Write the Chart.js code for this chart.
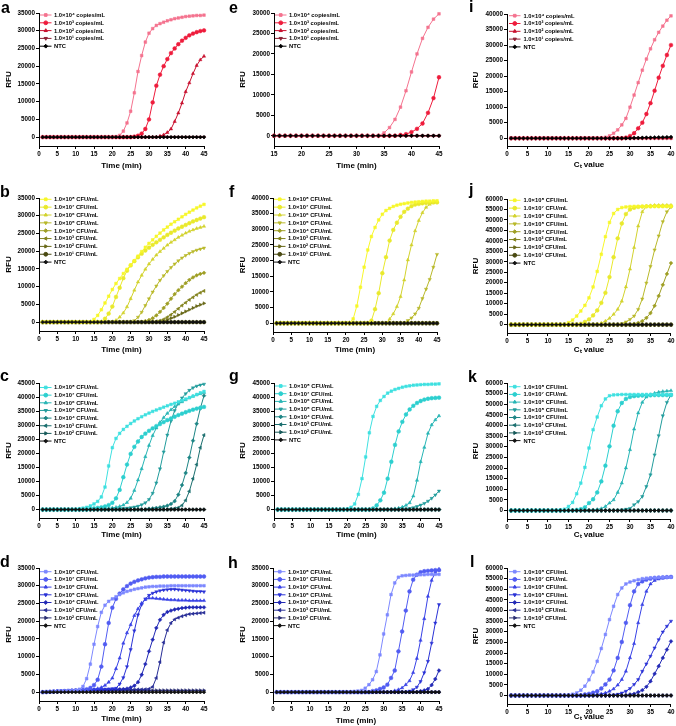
<!DOCTYPE html>
<html>
<head>
<meta charset="utf-8">
<script src="https://cdn.jsdelivr.net/npm/chart.js@4.4.0/dist/chart.umd.min.js"></script>
<style>
  html, body { margin: 0; padding: 0; background: #fff; }
  #fig { position: relative; width: 676px; height: 726px; overflow: hidden; }
  .panel { position: absolute; }
  .tag { position: absolute; font: bold 16px "Liberation Sans", Arial, sans-serif; line-height: 1; color: #000; }
</style>
</head>
<body>
<div id="fig"></div>
<script>
// x positions (minutes / cycles)
const tX = [1,2,3,4,5,6,7,8,9,10,11,12,13,14,15,16,17,18,19,20,21,22,23,24,25,26,27,28,29,30,31,32,33,34,35,36,37,38,39,40,41,42,43,44,45];
const eX = [15,16,17,18,19,20,21,22,23,24,25,26,27,28,29,30,31,32,33,34,35,36,37,38,39,40,41,42,43,44,45];
const cX = [1,2,3,4,5,6,7,8,9,10,11,12,13,14,15,16,17,18,19,20,21,22,23,24,25,26,27,28,29,30,31,32,33,34,35,36,37,38,39,40];

// tick labels
const xT45 = [0,5,10,15,20,25,30,35,40,45];
const xTe = [15,20,25,30,35,40,45];
const xT40 = [0,5,10,15,20,25,30,35,40];
const yT30 = [0,5000,10000,15000,20000,25000,30000];
const yT35 = [0,5000,10000,15000,20000,25000,30000,35000];
const yT40 = [0,5000,10000,15000,20000,25000,30000,35000,40000];
const yT45 = [0,5000,10000,15000,20000,25000,30000,35000,40000,45000];
const yT60 = [0,5000,10000,15000,20000,25000,30000,35000,40000,45000,50000,55000,60000];

// series names
const copyLabels = ['1.0×10⁴ copies/mL','1.0×10³ copies/mL','1.0×10² copies/mL','1.0×10¹ copies/mL','NTC'];
const cfu9Labels = ['1.0×10⁸ CFU/mL','1.0×10⁷ CFU/mL','1.0×10⁶ CFU/mL','1.0×10⁵ CFU/mL','1.0×10⁴ CFU/mL','1.0×10³ CFU/mL','1.0×10² CFU/mL','1.0×10¹ CFU/mL','NTC'];
const cfu8Labels = ['1.0×10⁸ CFU/mL','1.0×10⁷ CFU/mL','1.0×10⁶ CFU/mL','1.0×10⁵ CFU/mL','1.0×10⁴ CFU/mL','1.0×10³ CFU/mL','1.0×10² CFU/mL','NTC'];
const timeTitle = 'Time (min)';
const ctTitle = 'Cₜ value';

// panel a
const a1 = [0,0,0,0,0,0,0,0,0,0, 0,0,0,0,0,0,0,0,0,0, 100,500,1700,4000,7300,12500,18500,23000,26800,29300,30600,31500,32000,32400,32800,33100,33400,33600,33800,34000,34100,34200,34300,34300,34400];
const a2 = [0,0,0,0,0,0,0,0,0,0, 0,0,0,0,0,0,0,0,0,0, 0,0,0,0,0, 150,400,1000,2300,5000,9800,14500,17600,20000,22000,23700,25000,26200,27200,28000,28700,29200,29600,29900,30100];
const a3 = [0,0,0,0,0,0,0,0,0,0, 0,0,0,0,0,0,0,0,0,0, 0,0,0,0,0,0,0,0,0,0, 0,0, 300,650,1300,2300,4400,6800,9600,12800,15300,17900,20200,21800,22800];
const a4 = [0,0,0,0,0,0,0,0,0,0, 0,0,0,0,0,0,0,0,0,0, 0,0,0,0,0,0,0,0,0,0, 0,0,0,0,0,0,0,0,0,0, 0,0,0,0,0];
const aN = [0,0,0,0,0,0,0,0,0,0, 0,0,0,0,0,0,0,0,0,0, 0,0,0,0,0,0,0,0,0,0, 0,0,0,0,0,0,0,0,0,0, 0,0,0,0,0];

// panel e (x from 15)
const e1 = [0,0,0,0,0,0,0,0,0,0, 0,0,0,0,0,0,0,0,0,0, 700,2000,4000,7000,11000,15600,20000,23800,26500,28500,29800];
const e2 = [0,0,0,0,0,0,0,0,0,0, 0,0,0,0,0,0,0,0,0,0, 0,0,0, 200,400,900,1700,3000,5600,9200,14300];
const e3 = [0,0,0,0,0,0,0,0,0,0, 0,0,0,0,0,0,0,0,0,0, 0,0,0,0,0,0,0,0,0,0, 0];
const e4 = [0,0,0,0,0,0,0,0,0,0, 0,0,0,0,0,0,0,0,0,0, 0,0,0,0,0,0,0,0,0,0, 0];
const eN = [0,0,0,0,0,0,0,0,0,0, 0,0,0,0,0,0,0,0,0,0, 0,0,0,0,0,0,0,0,0,0, 0];

// panel i
const i1 = [0,0,0,0,0,0,0,0,0,0, 0,0,0,0,0,0,0,0,0,0, 0,0,0, 300,750,1600,2700,4300,6400,10000,13900,17900,21900,25500,28800,31700,34100,36100,38000,39400];
const i2 = [0,0,0,0,0,0,0,0,0,0, 0,0,0,0,0,0,0,0,0,0, 0,0,0,0,0,0,0,0, 200,700,1600,3200,5000,7800,11300,15300,19500,23300,26800,30000];
const i3 = [0,0,0,0,0,0,0,0,0,0, 0,0,0,0,0,0,0,0,0,0, 0,0,0,0,0,0,0,0,0,0, 0,0,0,0,0,0,0,0,0,0];
const i4 = [0,0,0,0,0,0,0,0,0,0, 0,0,0,0,0,0,0,0,0,0, 0,0,0,0,0,0,0,0,0,0, 0,0,0,0,0,0,0,0,0,0];
const iN = [0,0,0,0,0,0,0,0,0,0, 0,0,0,0,0,0,0,0,0,0, 0,0,0,0,0,0,0,0,0,0, 100,100,150,200,200,250,300,300,350,400];

// panel b
const b1 = [0,0,0,0,0,0,0,0,0,0, 0,0,0,0, 760,1900,3500,5400,7300,9200,10900,12300,13700,14900,16100,17300,18600,19900,21100,22200,23200,24200,25100,26000,26800,27600,28300,29000,29700,30400,31000,31600,32200,32700,33200];
const b2 = [0,0,0,0,0,0,0,0,0,0, 0,0,0,0,0,0,0, 950,2400,4400,7100,9700,12400,14500,16000,17200,18300,19300,20200,21000,21800,22500,23200,23900,24600,25200,25800,26400,26900,27400,27900,28400,28800,29200,29600];
const b3 = [0,0,0,0,0,0,0,0,0,0, 0,0,0,0,0,0,0,0,0,0, 500,1400,2600,4300,6600,9000,11300,13200,14900,16400,17700,18900,19900,20800,21700,22500,23200,23900,24500,25100,25600,26000,26400,26700,27000];
const b4 = [0,0,0,0,0,0,0,0,0,0, 0,0,0,0,0,0,0,0,0,0, 0,0,0,0,0, 400,1400,2800,4700,6600,8500,10200,11800,13100,14300,15400,16400,17300,18100,18800,19400,19900,20300,20600,20900];
const b5 = [0,0,0,0,0,0,0,0,0,0, 0,0,0,0,0,0,0,0,0,0, 0,0,0,0,0,0,0,0, 300,600,1100,1900,2900,4000,5200,6600,7900,9000,10000,11000,11900,12600,13200,13600,13900];
const b6 = [0,0,0,0,0,0,0,0,0,0, 0,0,0,0,0,0,0,0,0,0, 0,0,0,0,0,0,0,0,0,0, 0, 200,400,800,1400,2100,2900,3800,4700,5500,6300,7000,7700,8300,8800];
const b7 = [0,0,0,0,0,0,0,0,0,0, 0,0,0,0,0,0,0,0,0,0, 0,0,0,0,0,0,0,0,0,0, 0,0, 200,400,700,1100,1500,2000,2500,3000,3500,4000,4500,4900,5300];
const b8 = [0,0,0,0,0,0,0,0,0,0, 0,0,0,0,0,0,0,0,0,0, 0,0,0,0,0,0,0,0,0,0, 0,0,0,0,0,0,0,0,0,0, 0,0,0,0,0];
const bN = [0,0,0,0,0,0,0,0,0,0, 0,0,0,0,0,0,0,0,0,0, 0,0,0,0,0,0,0,0,0,0, 0,0,0,0,0,0,0,0,0,0, 0,0,0,0,0];

// panel f
const f1 = [0,0,0,0,0,0,0,0,0,0, 0,0,0,0,0,0,0,0,0,0, 0, 1400,5500,11500,17900,23400,27700,30600,33000,34800,36000,36700,37300,37700,38000,38200,38400,38600,38700,38800,38900,39000,39000,39100,39100];
const f2 = [0,0,0,0,0,0,0,0,0,0, 0,0,0,0,0,0,0,0,0,0, 0,0,0,0,0,0, 800,4500,9600,16000,21100,26400,29800,32100,34000,35600,36600,37400,37900,38100,38300,38400,38500,38600,38600];
const f3 = [0,0,0,0,0,0,0,0,0,0, 0,0,0,0,0,0,0,0,0,0, 0,0,0,0,0,0,0,0,0,0, 0, 1300,3000,5300,8500,13800,20200,25000,29500,32800,35300,37000,38000,38500,38800];
const f4 = [0,0,0,0,0,0,0,0,0,0, 0,0,0,0,0,0,0,0,0,0, 0,0,0,0,0,0,0,0,0,0, 0,0,0,0,0,0, 850,1700,3000,4800,7900,10900,14000,17900,22000];
const f5 = [0,0,0,0,0,0,0,0,0,0, 0,0,0,0,0,0,0,0,0,0, 0,0,0,0,0,0,0,0,0,0, 0,0,0,0,0,0,0,0,0,0, 0,0,0,0,0];
const f6 = [0,0,0,0,0,0,0,0,0,0, 0,0,0,0,0,0,0,0,0,0, 0,0,0,0,0,0,0,0,0,0, 0,0,0,0,0,0,0,0,0,0, 0,0,0,0,0];
const f7 = [0,0,0,0,0,0,0,0,0,0, 0,0,0,0,0,0,0,0,0,0, 0,0,0,0,0,0,0,0,0,0, 0,0,0,0,0,0,0,0,0,0, 0,0,0,0,0];
const f8 = [0,0,0,0,0,0,0,0,0,0, 0,0,0,0,0,0,0,0,0,0, 0,0,0,0,0,0,0,0,0,0, 0,0,0,0,0,0,0,0,0,0, 0,0,0,0,0];
const fN = [0,0,0,0,0,0,0,0,0,0, 0,0,0,0,0,0,0,0,0,0, 0,0,0,0,0,0,0,0,0,0, 0,0,0,0,0,0,0,0,0,0, 0,0,0,0,0];

// panel j
const j1 = [0,0,0,0,0,0,0,0,0,0, 0,0,0,0, 950,2200,4100,6500,9200,12800,18000,25400,33600,42000,48800,53100,55000,55900,56200,56400,56500,56500,56500,56500,56500,56500,56500,56500,56500,56500];
const j2 = [0,0,0,0,0,0,0,0,0,0, 0,0,0,0,0,0,0, 400,1300,2500,4400,6800,10400,15200,22700,32200,41200,48300,52800,55000,55800,56200,56400,56500,56500,56600,56600,56600,56600,56600];
const j3 = [0,0,0,0,0,0,0,0,0,0, 0,0,0,0,0,0,0,0,0,0, 0, 300,700,1700,3000,4900,7300,11200,18000,26500,36800,47100,53900,56500,56800,57000,57000,57000,57000,57000];
const j4 = [0,0,0,0,0,0,0,0,0,0, 0,0,0,0,0,0,0,0,0,0, 0,0,0,0,0,0,0, 400,1300,2500,4100,7300,12300,19900,27800,35700,42400,49200,53900,56200];
const j5 = [0,0,0,0,0,0,0,0,0,0, 0,0,0,0,0,0,0,0,0,0, 0,0,0,0,0,0,0,0,0,0, 400,800,1700,3200,5500,9000,13700,19000,24200,29400];
const j6 = [0,0,0,0,0,0,0,0,0,0, 0,0,0,0,0,0,0,0,0,0, 0,0,0,0,0,0,0,0,0,0, 0,0,0,0,0,0,0,0,0,0];
const j7 = [0,0,0,0,0,0,0,0,0,0, 0,0,0,0,0,0,0,0,0,0, 0,0,0,0,0,0,0,0,0,0, 0,0,0,0,0,0,0,0,0,0];
const j8 = [0,0,0,0,0,0,0,0,0,0, 0,0,0,0,0,0,0,0,0,0, 0,0,0,0,0,0,0,0,0,0, 0,0,0,0,0,0,0,0,0,0];
const jN = [0,0,0,0,0,0,0,0,0,0, 0,0,0,0,0,0,0,0,0,0, 0,0,0,0,0,0,0,0,0,0, 0,0,0,0,0,0,0,0,0,0];

// panel c
const c1 = [0,0,0,0,0,0,0,0,0,0, 300,500,800,1300,2000,2900,4500,8000,15500,22000,25300,27100,28500,29600,30600,31500,32300,33000,33700,34300,34900,35400,35900,36400,36900,37400,37800,38300,38800,39300,39800,40300,40900,41500,42000];
const c2 = [0,0,0,0,0,0,0,0,0,0, 0,0,0, 300,400,600,800,1100,1600,2400,4000,7000,11500,16000,19800,22300,24200,25800,27000,28000,28900,29700,30400,31100,31800,32400,33000,33600,34100,34600,35100,35500,35900,36200,36500];
const c3 = [0,0,0,0,0,0,0,0,0,0, 0,0,0,0,0,0,0, 300,400,600,800,1100,1600,2500,4000,6800,10500,14500,18800,22800,26300,29000,31000,32700,34200,35500,36600,37500,38300,39000,39700,40300,40800,41200,41600];
const c4 = [0,0,0,0,0,0,0,0,0,0, 0,0,0,0,0,0,0,0,0,0, 0, 300,400,500,700,900,1200,1700,2400,3600,5800,9500,14500,20500,26500,31500,35200,37800,39700,41200,42400,43300,43900,44300,44600];
const c5 = [0,0,0,0,0,0,0,0,0,0, 0,0,0,0,0,0,0,0,0,0, 0,0,0,0,0,0,0,0,0, 300,400,600,800,1000,1400,2000,3000,5300,8700,13000,18500,24500,30500,36000,40500];
const c6 = [0,0,0,0,0,0,0,0,0,0, 0,0,0,0,0,0,0,0,0,0, 0,0,0,0,0,0,0,0,0,0, 0,0,0,0,0, 300,400,700,1500,3300,6500,11000,16000,22000,26500];
const c7 = [0,0,0,0,0,0,0,0,0,0, 0,0,0,0,0,0,0,0,0,0, 0,0,0,0,0,0,0,0,0,0, 0,0,0,0,0,0,0,0,0,0, 0,0,0,0,0];
const cN = [0,0,0,0,0,0,0,0,0,0, 0,0,0,0,0,0,0,0,0,0, 0,0,0,0,0,0,0,0,0,0, 0,0,0,0,0,0,0,0,0,0, 0,0,0,0,0];

// panel g
const g1 = [0,0,0,0,0,0,0,0,0,0, 0,0,0,0,0,0,0,0,0, 200,800,2000,5400,11000,18700,27300,33100,36700,38800,40200,41400,42100,42700,43100,43500,43800,44000,44200,44300,44400,44500,44500,44600,44600,44700];
const g2 = [0,0,0,0,0,0,0,0,0,0, 0,0,0,0,0,0,0,0,0,0, 0,0,0,0,0,0, 400,1500,3300,6000,11000,17000,23000,27800,31200,33800,35600,36900,37900,38600,39100,39400,39600,39700,39800];
const g3 = [0,0,0,0,0,0,0,0,0,0, 0,0,0,0,0,0,0,0,0,0, 0,0,0,0,0,0,0,0,0,0, 0,0, 300,500,900,1500,2400,4800,10400,17000,22100,27100,30100,31900,33300];
const g4 = [0,0,0,0,0,0,0,0,0,0, 0,0,0,0,0,0,0,0,0,0, 0,0,0,0,0,0,0,0,0,0, 0,0,0,0,0, 200,400,700,1100,1600,2200,3000,4000,5200,6600];
const g5 = [0,0,0,0,0,0,0,0,0,0, 0,0,0,0,0,0,0,0,0,0, 0,0,0,0,0,0,0,0,0,0, 0,0,0,0,0,0,0,0,0,0, 0,0,0,0,0];
const g6 = [0,0,0,0,0,0,0,0,0,0, 0,0,0,0,0,0,0,0,0,0, 0,0,0,0,0,0,0,0,0,0, 0,0,0,0,0,0,0,0,0,0, 0,0,0,0,0];
const g7 = [0,0,0,0,0,0,0,0,0,0, 0,0,0,0,0,0,0,0,0,0, 0,0,0,0,0,0,0,0,0,0, 0,0,0,0,0,0,0,0,0,0, 0,0,0,0,0];
const gN = [0,0,0,0,0,0,0,0,0,0, 0,0,0,0,0,0,0,0,0,0, 0,0,0,0,0,0,0,0,0,0, 0,0,0,0,0,0,0,0,0,0, 0,0,0,0,0];

// panel k
const k1 = [0,0,0,0,0,0,0,0,0,0, 0,0, 300,600,1900,3800,7900,12900,20300,29400,38000,44000,49300,52500,54000,54400,54500,54600,54600,54600,54600,54600,54600,54600,54600,54600,54600,54600,54600,54600];
const k2 = [0,0,0,0,0,0,0,0,0,0, 0,0,0,0,0,0, 300,600,1500,3500,5300,8500,13700,21100,30200,39900,46700,50600,52500,53400,53800,54000,54100,54200,54200,54300,54300,54300,54300,54300];
const k3 = [0,0,0,0,0,0,0,0,0,0, 0,0,0,0,0,0,0,0,0,0, 300,500,900,1900,3500,5000,8500,12900,20000,28600,38300,45900,50900,53400,54500,55200,55700,56000,56200,56400];
const k4 = [0,0,0,0,0,0,0,0,0,0, 0,0,0,0,0,0,0,0,0,0, 0,0,0,0,0,0,0, 300,600,1000,2700,4200,6600,11300,16800,26200,35200,44600,50900,54500];
const k5 = [0,0,0,0,0,0,0,0,0,0, 0,0,0,0,0,0,0,0,0,0, 0,0,0,0,0,0,0,0,0,0, 0,0,0,0,0,0,0,0,0,0];
const k6 = [0,0,0,0,0,0,0,0,0,0, 0,0,0,0,0,0,0,0,0,0, 0,0,0,0,0,0,0,0,0,0, 0,0,0,0,0,0,0,0,0,0];
const k7 = [0,0,0,0,0,0,0,0,0,0, 0,0,0,0,0,0,0,0,0,0, 0,0,0,0,0,0,0,0,0,0, 0,0,0,0,0,0,0,0,0,0];
const kN = [0,0,0,0,0,0,0,0,0,0, 0,0,0,0,0,0,0,0,0,0, 0,0,0,0,0,0,0,0,0,0, 0,0,0,0,0,0,0,0,0,0];

// panel d
const d1 = [0,50,100,150,200,250,300,350,400,500, 800,1600,3800,7900,13500,18500,22500,24500,25600,26300,26900,27500,28000,28400,28700,29000,29200,29400,29600,29700,29800,29800,29900,29900,29900,30000,30000,30000,30000,30000,30000,30000,30000,30000,30000];
const d2 = [0,50,100,150,200,250,300,350,400,450, 500,600,800,1200,2000,3500,7200,13500,19500,23800,26300,27800,29000,29900,30600,31100,31500,31800,32100,32300,32400,32500,32500,32600,32600,32600,32600,32600,32600,32600,32600,32600,32600,32600,32600];
const d3 = [0,50,100,150,200,250,300,350,400,450, 500,550,600,700,800,1000,1300,1900,2800,3950,6600,9600,13800,16700,19000,21600,23500,25100,26100,26500,26500,26400,26300,26200,26100,26000,26000,25900,25900,25900,25800,25800,25800,25800,25800];
const d4 = [0,50,100,150,200,250,300,350,400,450, 500,550,600,650,700,750,800,850,900,1000,1100,2300,4100,7200,12000,17300,21800,24700,26300,27300,27900,28300,28600,28800,28900,29000,29000,28900,28800,28700,28600,28500,28400,28400,28300];
const d5 = [0,50,100,150,200,250,300,350,400,450, 500,500,550,550,600,600,650,650,700,700,750,800,850,1000,1300,1800,2800,4900,7900,11500,14800,18100,20400,21800,22600,23000,23300,23500,23700,23800,23900,23900,23900,23900,23900];
const d6 = [0,50,100,150,200,250,300,350,400,450, 500,500,500,500,550,550,550,600,600,600,650,650,650,700,700,700,750,750,800,900,1500,4000,8500,14000,17500,19500,20500,21000,21400,21700,22000,22100,22200,22300,22400];
const d7 = [0,50,100,150,200,250,300,350,400,450, 500,500,500,500,500,500,500,500,500,500,500,500,500,500,500,500,500,500,500,500,500,500,500,500,500,500,500,500,500,500,500,500,500,500,500];
const dN = [0,0,0,0,0,0,0,0,0,0, 0,0,0,0,0,0,0,0,0,0, 0,0,0,0,0,0,0,0,0,0, 0,0,0,0,0,0,0,0,0,0, 0,0,0,0,0];

// panel h
const h1 = [0,0,0,0,0,0,0,0,0,0, 0,0,0,0,0,0,0,0,0,0, 0, 200,300,500,1100,2100,3500,5800,10500,16400,21800,27500,30800,32400,32800,32900,33000,33000,33100,33100,33100,33200,33200,33200,33200];
const h2 = [0,0,0,0,0,0,0,0,0,0, 0,0,0,0,0,0,0,0,0,0, 0,0,0,0,0,0, 300,500,900,1300,2100,4000,6100,11500,17100,23000,28400,31700,33100,33800,34100,34200,34300,34400,34400];
const h3 = [0,0,0,0,0,0,0,0,0,0, 0,0,0,0,0,0,0,0,0,0, 0,0,0,0,0,0,0,0,0,0, 0,0, 400,700,1200,2100,3200,5500,9500,14600,20700,27000,31500,33800,34700];
const h4 = [0,0,0,0,0,0,0,0,0,0, 0,0,0,0,0,0,0,0,0,0, 0,0,0,0,0,0,0,0,0,0, 0,0,0,0,0,0, 300,700,1400,3000,5500,8700,13800,19500,24700];
const h5 = [0,0,0,0,0,0,0,0,0,0, 0,0,0,0,0,0,0,0,0,0, 0,0,0,0,0,0,0,0,0,0, 0,0,0,0,0,0,0,0,0, 300,500,900,2000,3700,6100];
const h6 = [0,0,0,0,0,0,0,0,0,0, 0,0,0,0,0,0,0,0,0,0, 0,0,0,0,0,0,0,0,0,0, 0,0,0,0,0,0,0,0,0,0, 0,0,0,0,0];
const h7 = [0,0,0,0,0,0,0,0,0,0, 0,0,0,0,0,0,0,0,0,0, 0,0,0,0,0,0,0,0,0,0, 0,0,0,0,0,0,0,0,0,0, 0,0,0,0,0];
const hN = [0,0,0,0,0,0,0,0,0,0, 0,0,0,0,0,0,0,0,0,0, 0,0,0,0,0,0,0,0,0,0, 0,0,0,0,0,0,0,0,0,0, 0,0,0,0,0];

// panel l
const l1 = [0,0,0,0,0,0,0,0,0,0, 0,0,0,0, 300,600,1200,2500,4400,7400,11100,16100,22100,28700,35700,42000,47500,50600,52500,53400,54000,54500,55000,55200,55400,55500,55500,55600,55600,55700];
const l2 = [0,0,0,0,0,0,0,0,0,0, 0,0,0,0,0,0,0,0, 500,800,1300,2000,3300,5200,7500,11800,17700,25200,34200,42500,49000,52500,53700,54500,55000,55300,55500,55600,55700,55800];
const l3 = [0,0,0,0,0,0,0,0,0,0, 0,0,0,0,0,0,0,0,0,0, 0, 500,800,1200,2000,3100,4900,7500,11400,17700,24400,34200,42800,49000,52500,54100,54800,55200,55500,55700];
const l4 = [0,0,0,0,0,0,0,0,0,0, 0,0,0,0,0,0,0,0,0,0, 0,0,0,0,0, 300,600,1200,2000,3300,5200,7500,11400,14900,18500,22400,26300,29900,32600,35000];
const l5 = [0,0,0,0,0,0,0,0,0,0, 0,0,0,0,0,0,0,0,0,0, 0,0,0,0,0,0,0,0,0, 500,800,1600,2500,4100,6700,10200,13800,17700,21600,25500];
const l6 = [0,0,0,0,0,0,0,0,0,0, 0,0,0,0,0,0,0,0,0,0, 0,0,0,0,0,0,0,0,0,0, 0,0,0,0,0,0,0,0,0,0];
const l7 = [0,0,0,0,0,0,0,0,0,0, 0,0,0,0,0,0,0,0,0,0, 0,0,0,0,0,0,0,0,0,0, 0,0,0,0,0,0,0,0,0,0];
const lN = [0,0,0,0,0,0,0,0,0,0, 0,0,0,0,0,0,0,0,0,0, 0,0,0,0,0,0,0,0,0,0, 0,0,0,0,0,0,0,0,0,0];

// colours per row family
const redCols = ['#f4738f', '#ee1c3c', '#c8102e', '#8c2134', '#000000'];
const yelCols = ['#f7f72a', '#e9e92c', '#d2d22e', '#b9b92b', '#9e9e24', '#83831e', '#686818', '#4a4a12', '#111111'];
const cyaCols = ['#3fe0e0', '#2ccfcf', '#27b5b5', '#229c9c', '#1d8585', '#1a6e6e', '#175a5a', '#111111'];
const bluCols = ['#7d88ff', '#515cf2', '#3842e6', '#2a32d6', '#2229b5', '#272d96', '#2b2f73', '#111111'];

// marker per series position (NTC handled separately)
const marks = [
  { style: 'rect', rot: 0 },
  { style: 'circle', rot: 0 },
  { style: 'triangle', rot: 0 },
  { style: 'triangle', rot: 180 },
  { style: 'rectRot', rot: 0 },
  { style: 'triangle', rot: -90 },
  { style: 'triangle', rot: 90 },
  { style: 'circle', rot: 0 }
];
const ntcMark = { style: 'rectRot', rot: 0 };
const MARK_R = 1.9;

const FONT = '"Liberation Sans", Arial, sans-serif';
Chart.defaults.font.family = FONT;

// geometry of each panel on the page
const col1 = { left: 0, right: 214, rfuX: 9, leg: { ls: 1, le: 12.5, tx: 15 } };
const col2 = { left: 226, right: 449, rfuX: 243, leg: { ls: 1, le: 12.5, tx: 15 } };
const col3 = { left: 460, right: 676, rfuX: 476, leg: { ls: 2, le: 13.5, tx: 16.5 } };

const panels = [
  { tag: 'a', tagXY: [1, -0.5], col: col1, x0: 39, x1: 204, yTop: 13, yBot: 146, titleY: 166, legTop: 2, legGap: 7.8,
    xs: tX, xTicks: xT45, yTicks: yT35, yMin: -2500, xTitle: timeTitle, labels: copyLabels, colors: redCols, series: [a1, a2, a3, a4, aN] },
  { tag: 'e', tagXY: [229, -0.5], col: col2, x0: 274, x1: 439, yTop: 13, yBot: 146, titleY: 166, legTop: 2, legGap: 7.8,
    xs: eX, xTicks: xTe, yTicks: yT30, yMin: -2500, xTitle: timeTitle, labels: copyLabels, colors: redCols, series: [e1, e2, e3, e4, eN] },
  { tag: 'i', tagXY: [469, -1.5], col: col3, x0: 507, x1: 672, yTop: 14, yBot: 146, titleY: 165, legTop: 1.7, legGap: 7.8,
    xs: cX, xTicks: xT40, yTicks: yT40, yMin: -2500, xTitle: ctTitle, labels: copyLabels, colors: redCols, series: [i1, i2, i3, i4, iN] },

  { tag: 'b', tagXY: [0, 183.5], col: col1, x0: 39, x1: 204, yTop: 198, yBot: 331, titleY: 350, legTop: 1.3, legGap: 7.85,
    xs: tX, xTicks: xT45, yTicks: yT35, yMin: -2500, xTitle: timeTitle, labels: cfu9Labels, colors: yelCols, series: [b1, b2, b3, b4, b5, b6, b7, b8, bN] },
  { tag: 'f', tagXY: [229, 183.5], col: col2, x0: 273, x1: 437, yTop: 198, yBot: 332, titleY: 350, legTop: 1.3, legGap: 7.85,
    xs: tX, xTicks: xT45, yTicks: yT40, yMin: -2800, xTitle: timeTitle, labels: cfu9Labels, colors: yelCols, series: [f1, f2, f3, f4, f5, f6, f7, f8, fN] },
  { tag: 'j', tagXY: [469, 181.5], col: col3, x0: 507, x1: 672, yTop: 199, yBot: 333, titleY: 350, legTop: 1.3, legGap: 7.85,
    xs: cX, xTicks: xT40, yTicks: yT60, yMin: -4000, xTitle: ctTitle, labels: cfu9Labels, colors: yelCols, series: [j1, j2, j3, j4, j5, j6, j7, j8, jN] },

  { tag: 'c', tagXY: [0, 367.5], col: col1, x0: 39, x1: 204, yTop: 383, yBot: 518, titleY: 535, legTop: 4.5, legGap: 7.65,
    xs: tX, xTicks: xT45, yTicks: yT45, yMin: -3000, xTitle: timeTitle, labels: cfu8Labels, colors: cyaCols, series: [c1, c2, c3, c4, c5, c6, c7, cN] },
  { tag: 'g', tagXY: [229, 367.5], col: col2, x0: 274, x1: 439, yTop: 383, yBot: 518, titleY: 535, legTop: 3, legGap: 7.7,
    xs: tX, xTicks: xT45, yTicks: yT45, yMin: -3000, xTitle: timeTitle, labels: cfu8Labels, colors: cyaCols, series: [g1, g2, g3, g4, g5, g6, g7, gN] },
  { tag: 'k', tagXY: [468, 368.5], col: col3, x0: 507, x1: 672, yTop: 383, yBot: 519, titleY: 535, legTop: 3.7, legGap: 7.7,
    xs: cX, xTicks: xT40, yTicks: yT60, yMin: -4000, xTitle: ctTitle, labels: cfu8Labels, colors: cyaCols, series: [k1, k2, k3, k4, k5, k6, k7, kN] },

  { tag: 'd', tagXY: [0, 553.5], col: col1, x0: 39, x1: 204, yTop: 568, yBot: 701, titleY: 719, legTop: 3.7, legGap: 7.7,
    xs: tX, xTicks: xT45, yTicks: yT35, yMin: -2500, xTitle: timeTitle, labels: cfu8Labels, colors: bluCols, series: [d1, d2, d3, d4, d5, d6, d7, dN] },
  { tag: 'h', tagXY: [228, 554.5], col: col2, x0: 273, x1: 439, yTop: 568, yBot: 701, titleY: 721, legTop: 3.7, legGap: 7.7,
    xs: tX, xTicks: xT45, yTicks: yT35, yMin: -2500, xTitle: timeTitle, labels: cfu8Labels, colors: bluCols, series: [h1, h2, h3, h4, h5, h6, h7, hN] },
  { tag: 'l', tagXY: [470, 553.5], col: col3, x0: 507, x1: 672, yTop: 568, yBot: 704, titleY: 717, legTop: 3.7, legGap: 7.7,
    xs: cX, xTicks: xT40, yTicks: yT60, yMin: -4000, xTitle: ctTitle, labels: cfu8Labels, colors: bluCols, series: [l1, l2, l3, l4, l5, l6, l7, lN] }
];

// legend drawn inside the plot, top-left, GraphPad style
const insideLegend = {
  id: 'insideLegend',
  afterDraw(chart, args, opts) {
    const { ctx, chartArea } = chart;
    ctx.save();
    chart.data.datasets.forEach((ds, i) => {
      const y = chartArea.top + opts.top + i * opts.gap;
      const xa = chartArea.left + opts.ls;
      const xb = chartArea.left + opts.le;
      ctx.strokeStyle = ds.borderColor;
      ctx.fillStyle = ds.backgroundColor;
      ctx.lineWidth = 1;
      ctx.beginPath();
      ctx.moveTo(xa, y);
      ctx.lineTo(xb, y);
      ctx.stroke();
      Chart.helpers.drawPoint(ctx, { pointStyle: ds.pointStyle, rotation: ds.rotation, radius: MARK_R, borderWidth: 0.5 }, (xa + xb) / 2, y);
      ctx.fillStyle = '#000';
      ctx.font = 'bold 5.8px ' + FONT;
      ctx.textBaseline = 'middle';
      ctx.textAlign = 'left';
      ctx.fillText(ds.label, chartArea.left + opts.tx, y + 0.3);
    });
    ctx.restore();
  }
};

function buildPanel(p) {
  const fig = document.getElementById('fig');
  const canvasTop = p.yTop - 12;
  const W = p.col.right - p.col.left;
  const H = p.titleY + 5 - canvasTop;
  const padL = p.col.rfuX - 4 - p.col.left;
  const yAxisW = p.x0 - p.col.left - padL;
  const xAxisH = p.titleY + 4 - p.yBot;

  const wrap = document.createElement('div');
  wrap.className = 'panel';
  wrap.style.left = p.col.left + 'px';
  wrap.style.top = canvasTop + 'px';
  const cv = document.createElement('canvas');
  cv.width = W;
  cv.height = H;
  cv.style.width = W + 'px';
  cv.style.height = H + 'px';
  wrap.appendChild(cv);
  fig.appendChild(wrap);

  const tag = document.createElement('div');
  tag.className = 'tag';
  tag.textContent = p.tag;
  tag.style.left = p.tagXY[0] + 'px';
  tag.style.top = p.tagXY[1] + 'px';
  fig.appendChild(tag);

  const last = p.series.length - 1;
  const datasets = p.series.map((vals, i) => {
    const m = i === last ? ntcMark : marks[i];
    return {
      label: p.labels[i],
      data: vals.map((v, k) => ({ x: p.xs[k], y: v })),
      borderColor: p.colors[i],
      backgroundColor: p.colors[i],
      borderWidth: 1,
      pointStyle: m.style,
      rotation: m.rot,
      pointRadius: MARK_R,
      pointBorderWidth: 0.5,
      pointHoverRadius: MARK_R,
      tension: 0,
      clip: false,
      order: i === last ? -1 : i   // NTC drawn on top of the baseline cluster
    };
  });

  const tickFont = { size: 6.3, weight: 'bold', family: FONT };
  const titleFont = { size: 8, weight: 'bold', family: FONT, lineHeight: 1 };

  new Chart(cv, {
    type: 'line',
    data: { datasets },
    options: {
      responsive: false,
      animation: false,
      devicePixelRatio: 1,
      events: [],
      layout: { padding: { left: padL, top: p.yTop - canvasTop, right: p.col.right - p.x1, bottom: 1 } },
      plugins: {
        legend: { display: false },
        tooltip: { enabled: false },
        insideLegend: { top: p.legTop, gap: p.legGap, ls: p.col.leg.ls, le: p.col.leg.le, tx: p.col.leg.tx }
      },
      scales: {
        x: {
          type: 'linear',
          min: p.xTicks[0],
          max: p.xTicks[p.xTicks.length - 1],
          afterBuildTicks: (s) => { s.ticks = p.xTicks.map(v => ({ value: v })); },
          afterFit: (s) => { s.height = xAxisH; },
          ticks: { color: '#000', font: tickFont, padding: 1.5, maxRotation: 0, autoSkip: false, callback: v => String(v) },
          grid: { display: true, drawOnChartArea: false, drawTicks: true, tickLength: 3, color: '#000', tickWidth: 1 },
          border: { display: true, color: '#000', width: 1 },
          title: { display: true, text: p.xTitle, color: '#000', font: titleFont, padding: 0 }
        },
        y: {
          type: 'linear',
          min: p.yMin,
          max: p.yTicks[p.yTicks.length - 1],
          afterBuildTicks: (s) => { s.ticks = p.yTicks.map(v => ({ value: v })); },
          afterFit: (s) => { s.width = yAxisW; },
          ticks: { color: '#000', font: tickFont, padding: 1, callback: v => String(v) },
          grid: { display: true, drawOnChartArea: false, drawTicks: true, tickLength: 3, color: '#000', tickWidth: 1 },
          border: { display: true, color: '#000', width: 1 },
          title: { display: true, text: 'RFU', color: '#000', font: titleFont, padding: 0 }
        }
      }
    },
    plugins: [insideLegend]
  });
}

document.addEventListener('DOMContentLoaded', () => {
  panels.forEach(buildPanel);
});
</script>
</body>
</html>
